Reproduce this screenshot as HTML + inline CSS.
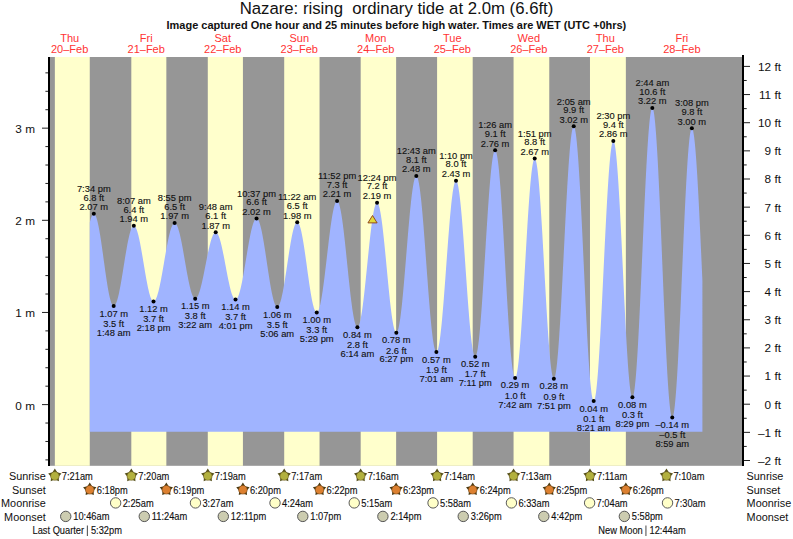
<!DOCTYPE html>
<html><head><meta charset="utf-8"><style>
html,body{margin:0;padding:0;background:#fff;width:793px;height:539px;overflow:hidden}
svg{display:block}
text{font-family:"Liberation Sans",sans-serif;fill:#111}
.t,.ev{stroke:#111;stroke-width:0.12px}
.t{font-size:9.35px}
.ev{font-size:9.3px}
.row{font-size:10.85px}
.ax{font-size:11.8px}
.day{font-size:11px;fill:#ff3333}
</style></head><body>
<svg width="793" height="539" viewBox="0 0 793 539" style="white-space:pre">

<text x="396.5" y="14.1" text-anchor="middle" style="font-size:16.75px">Nazare: rising &#160;ordinary tide at 2.0m (6.6ft)</text>
<text x="396.4" y="28.9" text-anchor="middle" style="font-size:10.98px;font-weight:bold">Image captured One hour and 25 minutes before high water. Times are WET (UTC +0hrs)</text>
<text class="day" x="69.67" y="41.9" text-anchor="middle">Thu</text>
<text class="day" x="69.67" y="52.9" text-anchor="middle">20–Feb</text>
<text class="day" x="146.20" y="41.9" text-anchor="middle">Fri</text>
<text class="day" x="146.20" y="52.9" text-anchor="middle">21–Feb</text>
<text class="day" x="222.72" y="41.9" text-anchor="middle">Sat</text>
<text class="day" x="222.72" y="52.9" text-anchor="middle">22–Feb</text>
<text class="day" x="299.24" y="41.9" text-anchor="middle">Sun</text>
<text class="day" x="299.24" y="52.9" text-anchor="middle">23–Feb</text>
<text class="day" x="375.77" y="41.9" text-anchor="middle">Mon</text>
<text class="day" x="375.77" y="52.9" text-anchor="middle">24–Feb</text>
<text class="day" x="452.29" y="41.9" text-anchor="middle">Tue</text>
<text class="day" x="452.29" y="52.9" text-anchor="middle">25–Feb</text>
<text class="day" x="528.82" y="41.9" text-anchor="middle">Wed</text>
<text class="day" x="528.82" y="52.9" text-anchor="middle">26–Feb</text>
<text class="day" x="605.34" y="41.9" text-anchor="middle">Thu</text>
<text class="day" x="605.34" y="52.9" text-anchor="middle">27–Feb</text>
<text class="day" x="681.86" y="41.9" text-anchor="middle">Fri</text>
<text class="day" x="681.86" y="52.9" text-anchor="middle">28–Feb</text>
<rect x="50" y="57" width="692" height="408.8" fill="#969696"/>
<rect x="54.85" y="57" width="34.91" height="408.8" fill="#ffffcc"/>
<rect x="131.32" y="57" width="35.02" height="408.8" fill="#ffffcc"/>
<rect x="207.79" y="57" width="35.13" height="408.8" fill="#ffffcc"/>
<rect x="284.20" y="57" width="35.34" height="408.8" fill="#ffffcc"/>
<rect x="360.68" y="57" width="35.45" height="408.8" fill="#ffffcc"/>
<rect x="437.09" y="57" width="35.60" height="408.8" fill="#ffffcc"/>
<rect x="513.56" y="57" width="35.71" height="408.8" fill="#ffffcc"/>
<rect x="589.98" y="57" width="35.87" height="408.8" fill="#ffffcc"/>
<path d="M89.80,431.8 L89.80,222.56 L90.24,220.81 L90.68,219.23 L91.11,217.85 L91.55,216.67 L91.99,215.68 L92.43,214.91 L92.86,214.34 L93.30,213.99 L93.74,213.85 L94.18,213.93 L94.61,214.23 L95.05,214.75 L95.49,215.48 L95.93,216.43 L96.36,217.59 L96.80,218.94 L97.24,220.50 L97.68,222.24 L98.11,224.16 L98.55,226.25 L98.99,228.51 L99.43,230.91 L99.86,233.45 L100.30,236.12 L100.74,238.91 L101.18,241.79 L101.61,244.76 L102.05,247.81 L102.49,250.91 L102.93,254.05 L103.36,257.22 L103.80,260.41 L104.24,263.59 L104.68,266.76 L105.11,269.89 L105.55,272.97 L105.99,276.00 L106.43,278.94 L106.87,281.80 L107.30,284.55 L107.74,287.18 L108.18,289.68 L108.62,292.04 L109.05,294.25 L109.49,296.29 L109.93,298.16 L110.37,299.85 L110.80,301.34 L111.24,302.64 L111.68,303.73 L112.12,304.61 L112.55,305.28 L112.99,305.73 L113.43,305.97 L113.87,305.98 L114.30,305.81 L114.74,305.44 L115.18,304.90 L115.62,304.17 L116.05,303.27 L116.49,302.19 L116.93,300.94 L117.37,299.53 L117.80,297.96 L118.24,296.24 L118.68,294.39 L119.12,292.39 L119.55,290.28 L119.99,288.05 L120.43,285.72 L120.87,283.30 L121.31,280.80 L121.74,278.22 L122.18,275.59 L122.62,272.92 L123.06,270.21 L123.49,267.48 L123.93,264.75 L124.37,262.02 L124.81,259.30 L125.24,256.62 L125.68,253.99 L126.12,251.40 L126.56,248.89 L126.99,246.45 L127.43,244.11 L127.87,241.87 L128.31,239.73 L128.74,237.72 L129.18,235.85 L129.62,234.11 L130.06,232.52 L130.49,231.08 L130.93,229.81 L131.37,228.71 L131.81,227.78 L132.24,227.02 L132.68,226.45 L133.12,226.06 L133.56,225.86 L133.99,225.84 L134.43,226.01 L134.87,226.36 L135.31,226.89 L135.75,227.60 L136.18,228.49 L136.62,229.54 L137.06,230.76 L137.50,232.15 L137.93,233.68 L138.37,235.36 L138.81,237.17 L139.25,239.12 L139.68,241.18 L140.12,243.35 L140.56,245.63 L141.00,247.98 L141.43,250.42 L141.87,252.92 L142.31,255.47 L142.75,258.06 L143.18,260.68 L143.62,263.31 L144.06,265.94 L144.50,268.56 L144.93,271.16 L145.37,273.72 L145.81,276.23 L146.25,278.68 L146.68,281.06 L147.12,283.35 L147.56,285.55 L148.00,287.64 L148.43,289.61 L148.87,291.46 L149.31,293.17 L149.75,294.74 L150.18,296.15 L150.62,297.41 L151.06,298.50 L151.50,299.43 L151.94,300.18 L152.37,300.75 L152.81,301.14 L153.25,301.35 L153.69,301.38 L154.12,301.24 L154.56,300.93 L155.00,300.46 L155.44,299.82 L155.87,299.03 L156.31,298.08 L156.75,296.98 L157.19,295.73 L157.62,294.34 L158.06,292.81 L158.50,291.15 L158.94,289.37 L159.37,287.47 L159.81,285.47 L160.25,283.37 L160.69,281.18 L161.12,278.91 L161.56,276.56 L162.00,274.16 L162.44,271.71 L162.87,269.21 L163.31,266.69 L163.75,264.14 L164.19,261.59 L164.62,259.04 L165.06,256.51 L165.50,254.00 L165.94,251.52 L166.38,249.09 L166.81,246.72 L167.25,244.41 L167.69,242.18 L168.13,240.03 L168.56,237.98 L169.00,236.02 L169.44,234.18 L169.88,232.46 L170.31,230.87 L170.75,229.41 L171.19,228.09 L171.63,226.91 L172.06,225.88 L172.50,225.01 L172.94,224.30 L173.38,223.74 L173.81,223.35 L174.25,223.13 L174.69,223.07 L175.13,223.17 L175.56,223.45 L176.00,223.89 L176.44,224.50 L176.88,225.27 L177.31,226.20 L177.75,227.29 L178.19,228.52 L178.63,229.90 L179.06,231.42 L179.50,233.07 L179.94,234.84 L180.38,236.73 L180.81,238.72 L181.25,240.82 L181.69,243.00 L182.13,245.27 L182.57,247.60 L183.00,249.99 L183.44,252.44 L183.88,254.92 L184.32,257.42 L184.75,259.94 L185.19,262.47 L185.63,264.98 L186.07,267.48 L186.50,269.95 L186.94,272.38 L187.38,274.76 L187.82,277.07 L188.25,279.32 L188.69,281.48 L189.13,283.54 L189.57,285.51 L190.00,287.37 L190.44,289.11 L190.88,290.72 L191.32,292.20 L191.75,293.53 L192.19,294.73 L192.63,295.77 L193.07,296.65 L193.50,297.38 L193.94,297.94 L194.38,298.34 L194.82,298.57 L195.25,298.63 L195.69,298.53 L196.13,298.29 L196.57,297.89 L197.00,297.36 L197.44,296.68 L197.88,295.86 L198.32,294.90 L198.76,293.81 L199.19,292.59 L199.63,291.26 L200.07,289.80 L200.51,288.24 L200.94,286.57 L201.38,284.81 L201.82,282.96 L202.26,281.04 L202.69,279.04 L203.13,276.98 L203.57,274.88 L204.01,272.72 L204.44,270.54 L204.88,268.33 L205.32,266.11 L205.76,263.89 L206.19,261.68 L206.63,259.48 L207.07,257.31 L207.51,255.17 L207.94,253.08 L208.38,251.05 L208.82,249.08 L209.26,247.18 L209.69,245.37 L210.13,243.65 L210.57,242.02 L211.01,240.50 L211.44,239.09 L211.88,237.80 L212.32,236.64 L212.76,235.60 L213.20,234.70 L213.63,233.94 L214.07,233.31 L214.51,232.84 L214.95,232.50 L215.38,232.32 L215.82,232.29 L216.26,232.41 L216.70,232.69 L217.13,233.14 L217.57,233.74 L218.01,234.50 L218.45,235.40 L218.88,236.46 L219.32,237.65 L219.76,238.98 L220.20,240.45 L220.63,242.03 L221.07,243.73 L221.51,245.53 L221.95,247.44 L222.38,249.43 L222.82,251.50 L223.26,253.64 L223.70,255.84 L224.13,258.09 L224.57,260.37 L225.01,262.69 L225.45,265.01 L225.88,267.35 L226.32,269.67 L226.76,271.98 L227.20,274.26 L227.63,276.49 L228.07,278.68 L228.51,280.81 L228.95,282.86 L229.39,284.83 L229.82,286.71 L230.26,288.50 L230.70,290.17 L231.14,291.73 L231.57,293.16 L232.01,294.46 L232.45,295.62 L232.89,296.64 L233.32,297.52 L233.76,298.24 L234.20,298.81 L234.64,299.21 L235.07,299.46 L235.51,299.55 L235.95,299.47 L236.39,299.22 L236.82,298.79 L237.26,298.20 L237.70,297.44 L238.14,296.51 L238.57,295.43 L239.01,294.19 L239.45,292.79 L239.89,291.26 L240.32,289.59 L240.76,287.78 L241.20,285.86 L241.64,283.82 L242.07,281.67 L242.51,279.43 L242.95,277.10 L243.39,274.69 L243.83,272.22 L244.26,269.69 L244.70,267.11 L245.14,264.50 L245.58,261.87 L246.01,259.22 L246.45,256.57 L246.89,253.94 L247.33,251.32 L247.76,248.74 L248.20,246.20 L248.64,243.72 L249.08,241.30 L249.51,238.96 L249.95,236.70 L250.39,234.54 L250.83,232.48 L251.26,230.53 L251.70,228.71 L252.14,227.01 L252.58,225.46 L253.01,224.04 L253.45,222.77 L253.89,221.66 L254.33,220.71 L254.76,219.92 L255.20,219.30 L255.64,218.85 L256.08,218.57 L256.51,218.46 L256.95,218.53 L257.39,218.80 L257.83,219.26 L258.26,219.91 L258.70,220.76 L259.14,221.79 L259.58,222.99 L260.02,224.38 L260.45,225.93 L260.89,227.65 L261.33,229.52 L261.77,231.54 L262.20,233.69 L262.64,235.98 L263.08,238.38 L263.52,240.89 L263.95,243.49 L264.39,246.18 L264.83,248.95 L265.27,251.77 L265.70,254.64 L266.14,257.55 L266.58,260.48 L267.02,263.42 L267.45,266.36 L267.89,269.28 L268.33,272.17 L268.77,275.02 L269.20,277.82 L269.64,280.55 L270.08,283.20 L270.52,285.75 L270.95,288.21 L271.39,290.56 L271.83,292.78 L272.27,294.86 L272.70,296.81 L273.14,298.61 L273.58,300.24 L274.02,301.71 L274.46,303.01 L274.89,304.13 L275.33,305.06 L275.77,305.81 L276.21,306.37 L276.64,306.74 L277.08,306.91 L277.52,306.88 L277.96,306.66 L278.39,306.23 L278.83,305.61 L279.27,304.79 L279.71,303.78 L280.14,302.59 L280.58,301.22 L281.02,299.67 L281.46,297.96 L281.89,296.09 L282.33,294.07 L282.77,291.91 L283.21,289.62 L283.64,287.21 L284.08,284.69 L284.52,282.08 L284.96,279.39 L285.39,276.62 L285.83,273.80 L286.27,270.93 L286.71,268.04 L287.14,265.13 L287.58,262.21 L288.02,259.31 L288.46,256.43 L288.90,253.59 L289.33,250.80 L289.77,248.07 L290.21,245.43 L290.65,242.87 L291.08,240.42 L291.52,238.08 L291.96,235.86 L292.40,233.79 L292.83,231.85 L293.27,230.07 L293.71,228.46 L294.15,227.01 L294.58,225.75 L295.02,224.66 L295.46,223.77 L295.90,223.06 L296.33,222.56 L296.77,222.25 L297.21,222.14 L297.65,222.25 L298.08,222.57 L298.52,223.12 L298.96,223.89 L299.40,224.88 L299.83,226.07 L300.27,227.47 L300.71,229.07 L301.15,230.86 L301.58,232.83 L302.02,234.97 L302.46,237.27 L302.90,239.72 L303.33,242.30 L303.77,245.02 L304.21,247.84 L304.65,250.75 L305.09,253.75 L305.52,256.82 L305.96,259.94 L306.40,263.10 L306.84,266.27 L307.27,269.46 L307.71,272.63 L308.15,275.77 L308.59,278.87 L309.02,281.92 L309.46,284.89 L309.90,287.78 L310.34,290.56 L310.77,293.23 L311.21,295.77 L311.65,298.16 L312.09,300.41 L312.52,302.49 L312.96,304.39 L313.40,306.11 L313.84,307.64 L314.27,308.97 L314.71,310.09 L315.15,311.00 L315.59,311.69 L316.02,312.16 L316.46,312.41 L316.90,312.43 L317.34,312.20 L317.77,311.72 L318.21,310.99 L318.65,310.01 L319.09,308.79 L319.52,307.33 L319.96,305.64 L320.40,303.73 L320.84,301.60 L321.28,299.27 L321.71,296.74 L322.15,294.03 L322.59,291.15 L323.03,288.12 L323.46,284.94 L323.90,281.63 L324.34,278.21 L324.78,274.69 L325.21,271.08 L325.65,267.42 L326.09,263.70 L326.53,259.95 L326.96,256.19 L327.40,252.43 L327.84,248.68 L328.28,244.98 L328.71,241.33 L329.15,237.75 L329.59,234.25 L330.03,230.86 L330.46,227.58 L330.90,224.44 L331.34,221.45 L331.78,218.61 L332.21,215.95 L332.65,213.48 L333.09,211.20 L333.53,209.13 L333.96,207.27 L334.40,205.65 L334.84,204.25 L335.28,203.09 L335.72,202.18 L336.15,201.52 L336.59,201.11 L337.03,200.95 L337.47,201.06 L337.90,201.46 L338.34,202.14 L338.78,203.11 L339.22,204.36 L339.65,205.88 L340.09,207.67 L340.53,209.72 L340.97,212.02 L341.40,214.55 L341.84,217.32 L342.28,220.29 L342.72,223.47 L343.15,226.83 L343.59,230.37 L344.03,234.06 L344.47,237.88 L344.90,241.83 L345.34,245.88 L345.78,250.01 L346.22,254.21 L346.65,258.45 L347.09,262.71 L347.53,266.99 L347.97,271.25 L348.40,275.47 L348.84,279.65 L349.28,283.75 L349.72,287.77 L350.16,291.67 L350.59,295.45 L351.03,299.08 L351.47,302.56 L351.91,305.85 L352.34,308.96 L352.78,311.86 L353.22,314.54 L353.66,316.99 L354.09,319.20 L354.53,321.15 L354.97,322.84 L355.41,324.27 L355.84,325.42 L356.28,326.28 L356.72,326.86 L357.16,327.16 L357.59,327.16 L358.03,326.86 L358.47,326.26 L358.91,325.36 L359.34,324.16 L359.78,322.67 L360.22,320.91 L360.66,318.87 L361.09,316.56 L361.53,314.01 L361.97,311.21 L362.41,308.19 L362.84,304.96 L363.28,301.53 L363.72,297.93 L364.16,294.16 L364.59,290.25 L365.03,286.22 L365.47,282.08 L365.91,277.86 L366.35,273.58 L366.78,269.26 L367.22,264.91 L367.66,260.57 L368.10,256.24 L368.53,251.96 L368.97,247.75 L369.41,243.61 L369.85,239.59 L370.28,235.68 L370.72,231.92 L371.16,228.32 L371.60,224.90 L372.03,221.68 L372.47,218.66 L372.91,215.88 L373.35,213.33 L373.78,211.04 L374.22,209.01 L374.66,207.25 L375.10,205.78 L375.53,204.59 L375.97,203.70 L376.41,203.11 L376.85,202.82 L377.28,202.84 L377.72,203.19 L378.16,203.86 L378.60,204.86 L379.03,206.18 L379.47,207.81 L379.91,209.74 L380.35,211.97 L380.79,214.48 L381.22,217.27 L381.66,220.31 L382.10,223.59 L382.54,227.09 L382.97,230.80 L383.41,234.70 L383.85,238.76 L384.29,242.98 L384.72,247.32 L385.16,251.76 L385.60,256.28 L386.04,260.86 L386.47,265.48 L386.91,270.11 L387.35,274.73 L387.79,279.31 L388.22,283.83 L388.66,288.27 L389.10,292.61 L389.54,296.82 L389.97,300.88 L390.41,304.78 L390.85,308.48 L391.29,311.99 L391.72,315.26 L392.16,318.30 L392.60,321.07 L393.04,323.58 L393.47,325.81 L393.91,327.74 L394.35,329.36 L394.79,330.67 L395.22,331.67 L395.66,332.34 L396.10,332.68 L396.54,332.68 L396.98,332.33 L397.41,331.60 L397.85,330.51 L398.29,329.06 L398.73,327.25 L399.16,325.10 L399.60,322.62 L400.04,319.81 L400.48,316.69 L400.91,313.28 L401.35,309.59 L401.79,305.64 L402.23,301.45 L402.66,297.03 L403.10,292.41 L403.54,287.62 L403.98,282.66 L404.41,277.57 L404.85,272.37 L405.29,267.09 L405.73,261.75 L406.16,256.37 L406.60,250.98 L407.04,245.61 L407.48,240.28 L407.91,235.02 L408.35,229.85 L408.79,224.79 L409.23,219.88 L409.66,215.12 L410.10,210.56 L410.54,206.20 L410.98,202.07 L411.42,198.19 L411.85,194.57 L412.29,191.24 L412.73,188.20 L413.17,185.48 L413.60,183.08 L414.04,181.02 L414.48,179.31 L414.92,177.96 L415.35,176.96 L415.79,176.33 L416.23,176.08 L416.67,176.20 L417.10,176.74 L417.54,177.68 L417.98,179.03 L418.42,180.78 L418.85,182.91 L419.29,185.43 L419.73,188.32 L420.17,191.56 L420.60,195.13 L421.04,199.04 L421.48,203.24 L421.92,207.73 L422.35,212.49 L422.79,217.48 L423.23,222.70 L423.67,228.11 L424.10,233.68 L424.54,239.40 L424.98,245.24 L425.42,251.16 L425.85,257.14 L426.29,263.16 L426.73,269.18 L427.17,275.17 L427.61,281.12 L428.04,286.98 L428.48,292.74 L428.92,298.36 L429.36,303.82 L429.79,309.10 L430.23,314.16 L430.67,318.99 L431.11,323.57 L431.54,327.86 L431.98,331.86 L432.42,335.54 L432.86,338.88 L433.29,341.87 L433.73,344.50 L434.17,346.76 L434.61,348.62 L435.04,350.09 L435.48,351.16 L435.92,351.82 L436.36,352.07 L436.79,351.91 L437.23,351.32 L437.67,350.32 L438.11,348.90 L438.54,347.08 L438.98,344.86 L439.42,342.26 L439.86,339.28 L440.29,335.95 L440.73,332.27 L441.17,328.27 L441.61,323.97 L442.05,319.38 L442.48,314.53 L442.92,309.45 L443.36,304.15 L443.80,298.67 L444.23,293.03 L444.67,287.26 L445.11,281.39 L445.55,275.44 L445.98,269.45 L446.42,263.45 L446.86,257.45 L447.30,251.50 L447.73,245.63 L448.17,239.86 L448.61,234.21 L449.05,228.73 L449.48,223.43 L449.92,218.34 L450.36,213.49 L450.80,208.89 L451.23,204.58 L451.67,200.57 L452.11,196.89 L452.55,193.55 L452.98,190.56 L453.42,187.95 L453.86,185.72 L454.30,183.89 L454.73,182.46 L455.17,181.45 L455.61,180.85 L456.05,180.68 L456.48,180.94 L456.92,181.65 L457.36,182.81 L457.80,184.41 L458.24,186.44 L458.67,188.90 L459.11,191.76 L459.55,195.02 L459.99,198.66 L460.42,202.65 L460.86,206.99 L461.30,211.64 L461.74,216.59 L462.17,221.80 L462.61,227.25 L463.05,232.92 L463.49,238.76 L463.92,244.77 L464.36,250.89 L464.80,257.11 L465.24,263.38 L465.67,269.69 L466.11,275.98 L466.55,282.24 L466.99,288.43 L467.42,294.52 L467.86,300.48 L468.30,306.27 L468.74,311.87 L469.17,317.25 L469.61,322.38 L470.05,327.23 L470.49,331.79 L470.92,336.02 L471.36,339.90 L471.80,343.42 L472.24,346.55 L472.68,349.29 L473.11,351.61 L473.55,353.50 L473.99,354.96 L474.43,355.98 L474.86,356.55 L475.30,356.67 L475.74,356.31 L476.18,355.45 L476.61,354.12 L477.05,352.30 L477.49,350.02 L477.93,347.27 L478.36,344.08 L478.80,340.46 L479.24,336.42 L479.68,331.99 L480.11,327.19 L480.55,322.04 L480.99,316.56 L481.43,310.77 L481.86,304.72 L482.30,298.43 L482.74,291.91 L483.18,285.22 L483.61,278.38 L484.05,271.41 L484.49,264.37 L484.93,257.27 L485.36,250.15 L485.80,243.05 L486.24,235.99 L486.68,229.02 L487.11,222.17 L487.55,215.47 L487.99,208.94 L488.43,202.63 L488.87,196.56 L489.30,190.76 L489.74,185.26 L490.18,180.09 L490.62,175.26 L491.05,170.80 L491.49,166.74 L491.93,163.09 L492.37,159.87 L492.80,157.10 L493.24,154.78 L493.68,152.94 L494.12,151.57 L494.55,150.68 L494.99,150.29 L495.43,150.40 L495.87,151.04 L496.30,152.22 L496.74,153.93 L497.18,156.15 L497.62,158.89 L498.05,162.13 L498.49,165.85 L498.93,170.03 L499.37,174.66 L499.80,179.71 L500.24,185.16 L500.68,190.99 L501.12,197.16 L501.55,203.64 L501.99,210.42 L502.43,217.44 L502.87,224.69 L503.31,232.12 L503.74,239.71 L504.18,247.41 L504.62,255.19 L505.06,263.01 L505.49,270.83 L505.93,278.63 L506.37,286.35 L506.81,293.97 L507.24,301.45 L507.68,308.75 L508.12,315.84 L508.56,322.68 L508.99,329.25 L509.43,335.51 L509.87,341.43 L510.31,346.99 L510.74,352.15 L511.18,356.89 L511.62,361.20 L512.06,365.05 L512.49,368.42 L512.93,371.29 L513.37,373.66 L513.81,375.51 L514.24,376.83 L514.68,377.62 L515.12,377.88 L515.56,377.59 L515.99,376.77 L516.43,375.41 L516.87,373.53 L517.31,371.12 L517.74,368.22 L518.18,364.82 L518.62,360.95 L519.06,356.62 L519.50,351.86 L519.93,346.69 L520.37,341.13 L520.81,335.21 L521.25,328.96 L521.68,322.42 L522.12,315.61 L522.56,308.57 L523.00,301.33 L523.43,293.92 L523.87,286.39 L524.31,278.77 L524.75,271.10 L525.18,263.41 L525.62,255.75 L526.06,248.15 L526.50,240.65 L526.93,233.28 L527.37,226.09 L527.81,219.10 L528.25,212.35 L528.68,205.88 L529.12,199.71 L529.56,193.89 L530.00,188.42 L530.43,183.35 L530.87,178.69 L531.31,174.48 L531.75,170.72 L532.18,167.44 L532.62,164.66 L533.06,162.39 L533.50,160.64 L533.94,159.41 L534.37,158.72 L534.81,158.57 L535.25,158.98 L535.69,159.96 L536.12,161.49 L536.56,163.58 L537.00,166.21 L537.44,169.37 L537.87,173.04 L538.31,177.21 L538.75,181.85 L539.19,186.93 L539.62,192.44 L540.06,198.34 L540.50,204.61 L540.94,211.20 L541.37,218.09 L541.81,225.25 L542.25,232.62 L542.69,240.19 L543.12,247.90 L543.56,255.71 L544.00,263.60 L544.44,271.51 L544.87,279.40 L545.31,287.24 L545.75,294.99 L546.19,302.60 L546.62,310.03 L547.06,317.25 L547.50,324.22 L547.94,330.91 L548.37,337.27 L548.81,343.28 L549.25,348.90 L549.69,354.11 L550.13,358.88 L550.56,363.18 L551.00,366.99 L551.44,370.30 L551.88,373.08 L552.31,375.33 L552.75,377.02 L553.19,378.16 L553.63,378.73 L554.06,378.72 L554.50,378.12 L554.94,376.92 L555.38,375.12 L555.81,372.74 L556.25,369.78 L556.69,366.26 L557.13,362.20 L557.56,357.62 L558.00,352.53 L558.44,346.96 L558.88,340.94 L559.31,334.50 L559.75,327.67 L560.19,320.47 L560.63,312.96 L561.06,305.15 L561.50,297.09 L561.94,288.82 L562.38,280.38 L562.81,271.80 L563.25,263.13 L563.69,254.42 L564.13,245.69 L564.57,236.99 L565.00,228.37 L565.44,219.86 L565.88,211.52 L566.32,203.36 L566.75,195.44 L567.19,187.80 L567.63,180.47 L568.07,173.47 L568.50,166.86 L568.94,160.66 L569.38,154.90 L569.82,149.60 L570.25,144.80 L570.69,140.51 L571.13,136.76 L571.57,133.56 L572.00,130.93 L572.44,128.88 L572.88,127.42 L573.32,126.56 L573.75,126.31 L574.19,126.68 L574.63,127.71 L575.07,129.37 L575.50,131.67 L575.94,134.59 L576.38,138.13 L576.82,142.26 L577.25,146.96 L577.69,152.22 L578.13,158.00 L578.57,164.28 L579.00,171.03 L579.44,178.22 L579.88,185.81 L580.32,193.77 L580.76,202.07 L581.19,210.65 L581.63,219.48 L582.07,228.52 L582.51,237.73 L582.94,247.06 L583.38,256.47 L583.82,265.92 L584.26,275.35 L584.69,284.72 L585.13,294.00 L585.57,303.13 L586.01,312.08 L586.44,320.80 L586.88,329.24 L587.32,337.38 L587.76,345.16 L588.19,352.56 L588.63,359.54 L589.07,366.07 L589.51,372.11 L589.94,377.64 L590.38,382.63 L590.82,387.05 L591.26,390.89 L591.69,394.13 L592.13,396.75 L592.57,398.74 L593.01,400.10 L593.44,400.80 L593.88,400.86 L594.32,400.28 L594.76,399.06 L595.20,397.21 L595.63,394.75 L596.07,391.67 L596.51,388.01 L596.95,383.76 L597.38,378.97 L597.82,373.64 L598.26,367.81 L598.70,361.50 L599.13,354.75 L599.57,347.59 L600.01,340.05 L600.45,332.17 L600.88,323.99 L601.32,315.55 L601.76,306.90 L602.20,298.06 L602.63,289.09 L603.07,280.04 L603.51,270.94 L603.95,261.83 L604.38,252.78 L604.82,243.81 L605.26,234.98 L605.70,226.32 L606.13,217.89 L606.57,209.71 L607.01,201.83 L607.45,194.30 L607.88,187.14 L608.32,180.39 L608.76,174.09 L609.20,168.27 L609.63,162.94 L610.07,158.15 L610.51,153.92 L610.95,150.26 L611.39,147.19 L611.82,144.73 L612.26,142.89 L612.70,141.68 L613.14,141.10 L613.57,141.17 L614.01,141.90 L614.45,143.29 L614.89,145.33 L615.32,148.02 L615.76,151.33 L616.20,155.26 L616.64,159.77 L617.07,164.86 L617.51,170.48 L617.95,176.62 L618.39,183.24 L618.82,190.30 L619.26,197.77 L619.70,205.62 L620.14,213.79 L620.57,222.25 L621.01,230.95 L621.45,239.85 L621.89,248.91 L622.32,258.06 L622.76,267.28 L623.20,276.51 L623.64,285.69 L624.07,294.79 L624.51,303.76 L624.95,312.55 L625.39,321.11 L625.82,329.41 L626.26,337.39 L626.70,345.01 L627.14,352.25 L627.58,359.05 L628.01,365.38 L628.45,371.22 L628.89,376.52 L629.33,381.27 L629.76,385.44 L630.20,389.00 L630.64,391.94 L631.08,394.24 L631.51,395.90 L631.95,396.89 L632.39,397.23 L632.83,396.88 L633.26,395.86 L633.70,394.14 L634.14,391.76 L634.58,388.71 L635.01,385.02 L635.45,380.69 L635.89,375.76 L636.33,370.24 L636.76,364.16 L637.20,357.55 L637.64,350.44 L638.08,342.86 L638.51,334.86 L638.95,326.46 L639.39,317.71 L639.83,308.65 L640.26,299.33 L640.70,289.78 L641.14,280.05 L641.58,270.20 L642.02,260.26 L642.45,250.28 L642.89,240.32 L643.33,230.41 L643.77,220.61 L644.20,210.96 L644.64,201.51 L645.08,192.30 L645.52,183.37 L645.95,174.78 L646.39,166.56 L646.83,158.74 L647.27,151.37 L647.70,144.49 L648.14,138.11 L648.58,132.28 L649.02,127.03 L649.45,122.37 L649.89,118.33 L650.33,114.93 L650.77,112.18 L651.20,110.10 L651.64,108.70 L652.08,107.98 L652.52,107.95 L652.95,108.66 L653.39,110.09 L653.83,112.26 L654.27,115.13 L654.70,118.71 L655.14,122.98 L655.58,127.91 L656.02,133.48 L656.45,139.66 L656.89,146.43 L657.33,153.75 L657.77,161.60 L658.21,169.92 L658.64,178.68 L659.08,187.84 L659.52,197.36 L659.96,207.19 L660.39,217.29 L660.83,227.59 L661.27,238.07 L661.71,248.66 L662.14,259.32 L662.58,270.00 L663.02,280.64 L663.46,291.20 L663.89,301.62 L664.33,311.85 L664.77,321.86 L665.21,331.58 L665.64,340.97 L666.08,349.99 L666.52,358.59 L666.96,366.74 L667.39,374.39 L667.83,381.52 L668.27,388.07 L668.71,394.03 L669.14,399.37 L669.58,404.06 L670.02,408.07 L670.46,411.39 L670.89,414.01 L671.33,415.90 L671.77,417.07 L672.21,417.50 L672.65,417.20 L673.08,416.20 L673.52,414.49 L673.96,412.09 L674.40,409.00 L674.83,405.25 L675.27,400.84 L675.71,395.80 L676.15,390.16 L676.58,383.95 L677.02,377.18 L677.46,369.91 L677.90,362.16 L678.33,353.97 L678.77,345.38 L679.21,336.43 L679.65,327.17 L680.08,317.65 L680.52,307.90 L680.96,297.98 L681.40,287.94 L681.83,277.83 L682.27,267.69 L682.71,257.57 L683.15,247.53 L683.58,237.62 L684.02,227.87 L684.46,218.35 L684.90,209.10 L685.33,200.16 L685.77,191.57 L686.21,183.39 L686.65,175.64 L687.09,168.37 L687.52,161.62 L687.96,155.41 L688.40,149.78 L688.84,144.75 L689.27,140.35 L689.71,136.60 L690.15,133.52 L690.59,131.13 L691.02,129.43 L691.46,128.44 L691.90,128.15 L692.34,128.55 L692.77,129.61 L693.21,131.32 L693.65,133.67 L694.09,136.67 L694.52,140.28 L694.96,144.50 L695.40,149.30 L695.84,154.66 L696.27,160.57 L696.71,166.98 L697.15,173.86 L697.59,181.20 L698.02,188.94 L698.46,197.07 L698.90,205.52 L699.34,214.28 L699.77,223.29 L700.21,232.52 L700.65,241.91 L701.09,251.43 L701.52,261.04 L701.96,270.67 L702.40,280.30 L702.40,431.8 Z" fill="#a0b4ff"/>
<rect x="48" y="57" width="2" height="409" fill="#000"/>
<rect x="742" y="55" width="2" height="411" fill="#000"/>
<rect x="45.4" y="459.39" width="2.6" height="1" fill="#222"/>
<rect x="45.4" y="440.96" width="2.6" height="1" fill="#222"/>
<rect x="45.4" y="422.53" width="2.6" height="1" fill="#222"/>
<rect x="42" y="404.10" width="6" height="1" fill="#222"/>
<text class="ax" x="35" y="409.50" text-anchor="end">0 m</text>
<rect x="45.4" y="385.67" width="2.6" height="1" fill="#222"/>
<rect x="45.4" y="367.24" width="2.6" height="1" fill="#222"/>
<rect x="45.4" y="348.81" width="2.6" height="1" fill="#222"/>
<rect x="45.4" y="330.38" width="2.6" height="1" fill="#222"/>
<rect x="42" y="311.95" width="6" height="1" fill="#222"/>
<text class="ax" x="35" y="317.35" text-anchor="end">1 m</text>
<rect x="45.4" y="293.52" width="2.6" height="1" fill="#222"/>
<rect x="45.4" y="275.09" width="2.6" height="1" fill="#222"/>
<rect x="45.4" y="256.66" width="2.6" height="1" fill="#222"/>
<rect x="45.4" y="238.23" width="2.6" height="1" fill="#222"/>
<rect x="42" y="219.80" width="6" height="1" fill="#222"/>
<text class="ax" x="35" y="225.20" text-anchor="end">2 m</text>
<rect x="45.4" y="201.37" width="2.6" height="1" fill="#222"/>
<rect x="45.4" y="182.94" width="2.6" height="1" fill="#222"/>
<rect x="45.4" y="164.51" width="2.6" height="1" fill="#222"/>
<rect x="45.4" y="146.08" width="2.6" height="1" fill="#222"/>
<rect x="42" y="127.65" width="6" height="1" fill="#222"/>
<text class="ax" x="35" y="133.05" text-anchor="end">3 m</text>
<rect x="45.4" y="109.22" width="2.6" height="1" fill="#222"/>
<rect x="45.4" y="90.79" width="2.6" height="1" fill="#222"/>
<rect x="45.4" y="72.36" width="2.6" height="1" fill="#222"/>
<rect x="744" y="460.00" width="6" height="1" fill="#222"/>
<text class="ax" x="781" y="464.90" text-anchor="end">–2 ft</text>
<rect x="744" y="445.92" width="2.7" height="1" fill="#222"/>
<rect x="744" y="431.85" width="6" height="1" fill="#222"/>
<text class="ax" x="781" y="436.75" text-anchor="end">–1 ft</text>
<rect x="744" y="417.77" width="2.7" height="1" fill="#222"/>
<rect x="744" y="403.70" width="6" height="1" fill="#222"/>
<text class="ax" x="781" y="408.60" text-anchor="end">0 ft</text>
<rect x="744" y="389.62" width="2.7" height="1" fill="#222"/>
<rect x="744" y="375.55" width="6" height="1" fill="#222"/>
<text class="ax" x="781" y="380.45" text-anchor="end">1 ft</text>
<rect x="744" y="361.48" width="2.7" height="1" fill="#222"/>
<rect x="744" y="347.40" width="6" height="1" fill="#222"/>
<text class="ax" x="781" y="352.30" text-anchor="end">2 ft</text>
<rect x="744" y="333.32" width="2.7" height="1" fill="#222"/>
<rect x="744" y="319.25" width="6" height="1" fill="#222"/>
<text class="ax" x="781" y="324.15" text-anchor="end">3 ft</text>
<rect x="744" y="305.18" width="2.7" height="1" fill="#222"/>
<rect x="744" y="291.10" width="6" height="1" fill="#222"/>
<text class="ax" x="781" y="296.00" text-anchor="end">4 ft</text>
<rect x="744" y="277.02" width="2.7" height="1" fill="#222"/>
<rect x="744" y="262.95" width="6" height="1" fill="#222"/>
<text class="ax" x="781" y="267.85" text-anchor="end">5 ft</text>
<rect x="744" y="248.88" width="2.7" height="1" fill="#222"/>
<rect x="744" y="234.80" width="6" height="1" fill="#222"/>
<text class="ax" x="781" y="239.70" text-anchor="end">6 ft</text>
<rect x="744" y="220.72" width="2.7" height="1" fill="#222"/>
<rect x="744" y="206.65" width="6" height="1" fill="#222"/>
<text class="ax" x="781" y="211.55" text-anchor="end">7 ft</text>
<rect x="744" y="192.57" width="2.7" height="1" fill="#222"/>
<rect x="744" y="178.50" width="6" height="1" fill="#222"/>
<text class="ax" x="781" y="183.40" text-anchor="end">8 ft</text>
<rect x="744" y="164.43" width="2.7" height="1" fill="#222"/>
<rect x="744" y="150.35" width="6" height="1" fill="#222"/>
<text class="ax" x="781" y="155.25" text-anchor="end">9 ft</text>
<rect x="744" y="136.27" width="2.7" height="1" fill="#222"/>
<rect x="744" y="122.20" width="6" height="1" fill="#222"/>
<text class="ax" x="781" y="127.10" text-anchor="end">10 ft</text>
<rect x="744" y="108.12" width="2.7" height="1" fill="#222"/>
<rect x="744" y="94.05" width="6" height="1" fill="#222"/>
<text class="ax" x="781" y="98.95" text-anchor="end">11 ft</text>
<rect x="744" y="79.98" width="2.7" height="1" fill="#222"/>
<rect x="744" y="65.90" width="6" height="1" fill="#222"/>
<text class="ax" x="781" y="70.80" text-anchor="end">12 ft</text>
<circle cx="93.80" cy="213.85" r="2" fill="#000"/>
<text class="t" transform="translate(93.80,192.05) scale(1,1.0)" text-anchor="middle">7:34 pm</text>
<text class="t" transform="translate(93.80,200.55) scale(1,1.0)" text-anchor="middle">6.8 ft</text>
<text class="t" transform="translate(93.80,210.25) scale(1,1.0)" text-anchor="middle">2.07 m</text>
<circle cx="113.67" cy="306.00" r="2" fill="#000"/>
<text class="t" transform="translate(113.67,316.60) scale(1,1.0)" text-anchor="middle">1.07 m</text>
<text class="t" transform="translate(113.67,326.80) scale(1,1.0)" text-anchor="middle">3.5 ft</text>
<text class="t" transform="translate(113.67,335.70) scale(1,1.0)" text-anchor="middle">1:48 am</text>
<circle cx="133.81" cy="225.83" r="2" fill="#000"/>
<text class="t" transform="translate(133.81,204.03) scale(1,1.0)" text-anchor="middle">8:07 am</text>
<text class="t" transform="translate(133.81,212.53) scale(1,1.0)" text-anchor="middle">6.4 ft</text>
<text class="t" transform="translate(133.81,222.23) scale(1,1.0)" text-anchor="middle">1.94 m</text>
<circle cx="153.53" cy="301.39" r="2" fill="#000"/>
<text class="t" transform="translate(153.53,311.99) scale(1,1.0)" text-anchor="middle">1.12 m</text>
<text class="t" transform="translate(153.53,322.19) scale(1,1.0)" text-anchor="middle">3.7 ft</text>
<text class="t" transform="translate(153.53,331.09) scale(1,1.0)" text-anchor="middle">2:18 pm</text>
<circle cx="174.63" cy="223.06" r="2" fill="#000"/>
<text class="t" transform="translate(174.63,201.26) scale(1,1.0)" text-anchor="middle">8:55 pm</text>
<text class="t" transform="translate(174.63,209.76) scale(1,1.0)" text-anchor="middle">6.5 ft</text>
<text class="t" transform="translate(174.63,219.46) scale(1,1.0)" text-anchor="middle">1.97 m</text>
<circle cx="195.19" cy="298.63" r="2" fill="#000"/>
<text class="t" transform="translate(195.19,309.23) scale(1,1.0)" text-anchor="middle">1.15 m</text>
<text class="t" transform="translate(195.19,319.43) scale(1,1.0)" text-anchor="middle">3.8 ft</text>
<text class="t" transform="translate(195.19,328.33) scale(1,1.0)" text-anchor="middle">3:22 am</text>
<circle cx="215.71" cy="232.28" r="2" fill="#000"/>
<text class="t" transform="translate(215.71,210.48) scale(1,1.0)" text-anchor="middle">9:48 am</text>
<text class="t" transform="translate(215.71,218.98) scale(1,1.0)" text-anchor="middle">6.1 ft</text>
<text class="t" transform="translate(215.71,228.68) scale(1,1.0)" text-anchor="middle">1.87 m</text>
<circle cx="235.53" cy="299.55" r="2" fill="#000"/>
<text class="t" transform="translate(235.53,310.15) scale(1,1.0)" text-anchor="middle">1.14 m</text>
<text class="t" transform="translate(235.53,320.35) scale(1,1.0)" text-anchor="middle">3.7 ft</text>
<text class="t" transform="translate(235.53,329.25) scale(1,1.0)" text-anchor="middle">4:01 pm</text>
<circle cx="256.57" cy="218.46" r="2" fill="#000"/>
<text class="t" transform="translate(256.57,196.66) scale(1,1.0)" text-anchor="middle">10:37 pm</text>
<text class="t" transform="translate(256.57,205.16) scale(1,1.0)" text-anchor="middle">6.6 ft</text>
<text class="t" transform="translate(256.57,214.86) scale(1,1.0)" text-anchor="middle">2.02 m</text>
<circle cx="277.24" cy="306.92" r="2" fill="#000"/>
<text class="t" transform="translate(277.24,317.52) scale(1,1.0)" text-anchor="middle">1.06 m</text>
<text class="t" transform="translate(277.24,327.72) scale(1,1.0)" text-anchor="middle">3.5 ft</text>
<text class="t" transform="translate(277.24,336.62) scale(1,1.0)" text-anchor="middle">5:06 am</text>
<circle cx="297.22" cy="222.14" r="2" fill="#000"/>
<text class="t" transform="translate(297.22,200.34) scale(1,1.0)" text-anchor="middle">11:22 am</text>
<text class="t" transform="translate(297.22,208.84) scale(1,1.0)" text-anchor="middle">6.5 ft</text>
<text class="t" transform="translate(297.22,218.54) scale(1,1.0)" text-anchor="middle">1.98 m</text>
<circle cx="316.73" cy="312.45" r="2" fill="#000"/>
<text class="t" transform="translate(316.73,323.05) scale(1,1.0)" text-anchor="middle">1.00 m</text>
<text class="t" transform="translate(316.73,333.25) scale(1,1.0)" text-anchor="middle">3.3 ft</text>
<text class="t" transform="translate(316.73,342.15) scale(1,1.0)" text-anchor="middle">5:29 pm</text>
<circle cx="337.08" cy="200.95" r="2" fill="#000"/>
<text class="t" transform="translate(337.08,179.15) scale(1,1.0)" text-anchor="middle">11:52 pm</text>
<text class="t" transform="translate(337.08,187.65) scale(1,1.0)" text-anchor="middle">7.3 ft</text>
<text class="t" transform="translate(337.08,197.35) scale(1,1.0)" text-anchor="middle">2.21 m</text>
<circle cx="357.38" cy="327.19" r="2" fill="#000"/>
<text class="t" transform="translate(357.38,337.79) scale(1,1.0)" text-anchor="middle">0.84 m</text>
<text class="t" transform="translate(357.38,347.99) scale(1,1.0)" text-anchor="middle">2.8 ft</text>
<text class="t" transform="translate(357.38,356.89) scale(1,1.0)" text-anchor="middle">6:14 am</text>
<circle cx="377.04" cy="202.79" r="2" fill="#000"/>
<text class="t" transform="translate(377.04,180.99) scale(1,1.0)" text-anchor="middle">12:24 pm</text>
<text class="t" transform="translate(377.04,189.49) scale(1,1.0)" text-anchor="middle">7.2 ft</text>
<text class="t" transform="translate(377.04,199.19) scale(1,1.0)" text-anchor="middle">2.19 m</text>
<circle cx="396.33" cy="332.72" r="2" fill="#000"/>
<text class="t" transform="translate(396.33,343.32) scale(1,1.0)" text-anchor="middle">0.78 m</text>
<text class="t" transform="translate(396.33,353.52) scale(1,1.0)" text-anchor="middle">2.6 ft</text>
<text class="t" transform="translate(396.33,362.42) scale(1,1.0)" text-anchor="middle">6:27 pm</text>
<circle cx="416.32" cy="176.07" r="2" fill="#000"/>
<text class="t" transform="translate(416.32,154.27) scale(1,1.0)" text-anchor="middle">12:43 am</text>
<text class="t" transform="translate(416.32,162.77) scale(1,1.0)" text-anchor="middle">8.1 ft</text>
<text class="t" transform="translate(416.32,172.47) scale(1,1.0)" text-anchor="middle">2.48 m</text>
<circle cx="436.40" cy="352.07" r="2" fill="#000"/>
<text class="t" transform="translate(436.40,362.67) scale(1,1.0)" text-anchor="middle">0.57 m</text>
<text class="t" transform="translate(436.40,372.87) scale(1,1.0)" text-anchor="middle">1.9 ft</text>
<text class="t" transform="translate(436.40,381.77) scale(1,1.0)" text-anchor="middle">7:01 am</text>
<circle cx="456.01" cy="180.68" r="2" fill="#000"/>
<text class="t" transform="translate(456.01,158.88) scale(1,1.0)" text-anchor="middle">1:10 pm</text>
<text class="t" transform="translate(456.01,167.38) scale(1,1.0)" text-anchor="middle">8.0 ft</text>
<text class="t" transform="translate(456.01,177.08) scale(1,1.0)" text-anchor="middle">2.43 m</text>
<circle cx="475.20" cy="356.68" r="2" fill="#000"/>
<text class="t" transform="translate(475.20,367.28) scale(1,1.0)" text-anchor="middle">0.52 m</text>
<text class="t" transform="translate(475.20,377.48) scale(1,1.0)" text-anchor="middle">1.7 ft</text>
<text class="t" transform="translate(475.20,386.38) scale(1,1.0)" text-anchor="middle">7:11 pm</text>
<circle cx="495.12" cy="150.27" r="2" fill="#000"/>
<text class="t" transform="translate(495.12,128.47) scale(1,1.0)" text-anchor="middle">1:26 am</text>
<text class="t" transform="translate(495.12,136.97) scale(1,1.0)" text-anchor="middle">9.1 ft</text>
<text class="t" transform="translate(495.12,146.67) scale(1,1.0)" text-anchor="middle">2.76 m</text>
<circle cx="515.11" cy="377.88" r="2" fill="#000"/>
<text class="t" transform="translate(515.11,388.48) scale(1,1.0)" text-anchor="middle">0.29 m</text>
<text class="t" transform="translate(515.11,398.68) scale(1,1.0)" text-anchor="middle">1.0 ft</text>
<text class="t" transform="translate(515.11,407.58) scale(1,1.0)" text-anchor="middle">7:42 am</text>
<circle cx="534.71" cy="158.56" r="2" fill="#000"/>
<text class="t" transform="translate(534.71,136.76) scale(1,1.0)" text-anchor="middle">1:51 pm</text>
<text class="t" transform="translate(534.71,145.26) scale(1,1.0)" text-anchor="middle">8.8 ft</text>
<text class="t" transform="translate(534.71,154.96) scale(1,1.0)" text-anchor="middle">2.67 m</text>
<circle cx="553.85" cy="378.80" r="2" fill="#000"/>
<text class="t" transform="translate(553.85,389.40) scale(1,1.0)" text-anchor="middle">0.28 m</text>
<text class="t" transform="translate(553.85,399.60) scale(1,1.0)" text-anchor="middle">0.9 ft</text>
<text class="t" transform="translate(553.85,408.50) scale(1,1.0)" text-anchor="middle">7:51 pm</text>
<circle cx="573.72" cy="126.31" r="2" fill="#000"/>
<text class="t" transform="translate(573.72,104.51) scale(1,1.0)" text-anchor="middle">2:05 am</text>
<text class="t" transform="translate(573.72,113.01) scale(1,1.0)" text-anchor="middle">9.9 ft</text>
<text class="t" transform="translate(573.72,122.71) scale(1,1.0)" text-anchor="middle">3.02 m</text>
<circle cx="593.70" cy="400.91" r="2" fill="#000"/>
<text class="t" transform="translate(593.70,411.51) scale(1,1.0)" text-anchor="middle">0.04 m</text>
<text class="t" transform="translate(593.70,421.71) scale(1,1.0)" text-anchor="middle">0.1 ft</text>
<text class="t" transform="translate(593.70,430.61) scale(1,1.0)" text-anchor="middle">8:21 am</text>
<circle cx="613.31" cy="141.05" r="2" fill="#000"/>
<text class="t" transform="translate(613.31,119.25) scale(1,1.0)" text-anchor="middle">2:30 pm</text>
<text class="t" transform="translate(613.31,127.75) scale(1,1.0)" text-anchor="middle">9.4 ft</text>
<text class="t" transform="translate(613.31,137.45) scale(1,1.0)" text-anchor="middle">2.86 m</text>
<circle cx="632.39" cy="397.23" r="2" fill="#000"/>
<text class="t" transform="translate(632.39,407.83) scale(1,1.0)" text-anchor="middle">0.08 m</text>
<text class="t" transform="translate(632.39,418.03) scale(1,1.0)" text-anchor="middle">0.3 ft</text>
<text class="t" transform="translate(632.39,426.93) scale(1,1.0)" text-anchor="middle">8:29 pm</text>
<circle cx="652.32" cy="107.88" r="2" fill="#000"/>
<text class="t" transform="translate(652.32,86.08) scale(1,1.0)" text-anchor="middle">2:44 am</text>
<text class="t" transform="translate(652.32,94.58) scale(1,1.0)" text-anchor="middle">10.6 ft</text>
<text class="t" transform="translate(652.32,104.28) scale(1,1.0)" text-anchor="middle">3.22 m</text>
<circle cx="672.25" cy="417.50" r="2" fill="#000"/>
<text class="t" transform="translate(672.25,428.10) scale(1,1.0)" text-anchor="middle">–0.14 m</text>
<text class="t" transform="translate(672.25,438.30) scale(1,1.0)" text-anchor="middle">–0.5 ft</text>
<text class="t" transform="translate(672.25,447.20) scale(1,1.0)" text-anchor="middle">8:59 am</text>
<circle cx="691.85" cy="128.15" r="2" fill="#000"/>
<text class="t" transform="translate(691.85,106.35) scale(1,1.0)" text-anchor="middle">3:08 pm</text>
<text class="t" transform="translate(691.85,114.85) scale(1,1.0)" text-anchor="middle">9.8 ft</text>
<text class="t" transform="translate(691.85,124.55) scale(1,1.0)" text-anchor="middle">3.00 m</text>
<polygon points="372.53,215.5 367.93,222.9 377.13,222.9" fill="#e2da3a" stroke="#8a3a18" stroke-width="0.9"/>
<text class="row" x="45.7" y="480" text-anchor="end">Sunrise</text>
<text class="row" x="746.6" y="480">Sunrise</text>
<text class="row" x="45.7" y="493.8" text-anchor="end">Sunset</text>
<text class="row" x="746.6" y="493.8">Sunset</text>
<text class="row" x="45.7" y="507.1" text-anchor="end">Moonrise</text>
<text class="row" x="746.6" y="507.1">Moonrise</text>
<text class="row" x="45.7" y="520.9" text-anchor="end">Moonset</text>
<text class="row" x="746.6" y="520.9">Moonset</text>
<polygon points="54.85,468.60 57.20,472.36 61.50,473.44 58.65,476.84 58.96,481.26 54.85,479.60 50.73,481.26 51.04,476.84 48.19,473.44 52.49,472.36" fill="#55501a"/>
<circle cx="54.85" cy="476" r="4.3" fill="#b2b03e" stroke="#6a5a20" stroke-width="0.6"/>
<text class="ev" transform="translate(61.85,479.60) scale(1,1.12)" text-anchor="start">7:21am</text>
<polygon points="131.32,468.60 133.67,472.36 137.97,473.44 135.12,476.84 135.43,481.26 131.32,479.60 127.20,481.26 127.51,476.84 124.66,473.44 128.97,472.36" fill="#55501a"/>
<circle cx="131.32" cy="476" r="4.3" fill="#b2b03e" stroke="#6a5a20" stroke-width="0.6"/>
<text class="ev" transform="translate(138.32,479.60) scale(1,1.12)" text-anchor="start">7:20am</text>
<polygon points="207.79,468.60 210.14,472.36 214.44,473.44 211.59,476.84 211.90,481.26 207.79,479.60 203.67,481.26 203.98,476.84 201.13,473.44 205.44,472.36" fill="#55501a"/>
<circle cx="207.79" cy="476" r="4.3" fill="#b2b03e" stroke="#6a5a20" stroke-width="0.6"/>
<text class="ev" transform="translate(214.79,479.60) scale(1,1.12)" text-anchor="start">7:19am</text>
<polygon points="284.20,468.60 286.56,472.36 290.86,473.44 288.01,476.84 288.32,481.26 284.20,479.60 280.09,481.26 280.40,476.84 277.55,473.44 281.85,472.36" fill="#55501a"/>
<circle cx="284.20" cy="476" r="4.3" fill="#b2b03e" stroke="#6a5a20" stroke-width="0.6"/>
<text class="ev" transform="translate(291.20,479.60) scale(1,1.12)" text-anchor="start">7:17am</text>
<polygon points="360.68,468.60 363.03,472.36 367.33,473.44 364.48,476.84 364.79,481.26 360.68,479.60 356.56,481.26 356.87,476.84 354.02,473.44 358.32,472.36" fill="#55501a"/>
<circle cx="360.68" cy="476" r="4.3" fill="#b2b03e" stroke="#6a5a20" stroke-width="0.6"/>
<text class="ev" transform="translate(367.68,479.60) scale(1,1.12)" text-anchor="start">7:16am</text>
<polygon points="437.09,468.60 439.44,472.36 443.75,473.44 440.90,476.84 441.21,481.26 437.09,479.60 432.98,481.26 433.29,476.84 430.44,473.44 434.74,472.36" fill="#55501a"/>
<circle cx="437.09" cy="476" r="4.3" fill="#b2b03e" stroke="#6a5a20" stroke-width="0.6"/>
<text class="ev" transform="translate(444.09,479.60) scale(1,1.12)" text-anchor="start">7:14am</text>
<polygon points="513.56,468.60 515.92,472.36 520.22,473.44 517.37,476.84 517.68,481.26 513.56,479.60 509.45,481.26 509.76,476.84 506.91,473.44 511.21,472.36" fill="#55501a"/>
<circle cx="513.56" cy="476" r="4.3" fill="#b2b03e" stroke="#6a5a20" stroke-width="0.6"/>
<text class="ev" transform="translate(520.56,479.60) scale(1,1.12)" text-anchor="start">7:13am</text>
<polygon points="589.98,468.60 592.33,472.36 596.64,473.44 593.79,476.84 594.10,481.26 589.98,479.60 585.87,481.26 586.18,476.84 583.32,473.44 587.63,472.36" fill="#55501a"/>
<circle cx="589.98" cy="476" r="4.3" fill="#b2b03e" stroke="#6a5a20" stroke-width="0.6"/>
<text class="ev" transform="translate(596.98,479.60) scale(1,1.12)" text-anchor="start">7:11am</text>
<polygon points="666.45,468.60 668.80,472.36 673.11,473.44 670.26,476.84 670.57,481.26 666.45,479.60 662.34,481.26 662.65,476.84 659.80,473.44 664.10,472.36" fill="#55501a"/>
<circle cx="666.45" cy="476" r="4.3" fill="#b2b03e" stroke="#6a5a20" stroke-width="0.6"/>
<text class="ev" transform="translate(673.45,479.60) scale(1,1.12)" text-anchor="start">7:10am</text>
<polygon points="89.76,482.40 92.11,486.16 96.42,487.24 93.56,490.64 93.87,495.06 89.76,493.40 85.65,495.06 85.96,490.64 83.10,487.24 87.41,486.16" fill="#4a3a12"/>
<circle cx="89.76" cy="489.8" r="4.3" fill="#dc8030" stroke="#7a4a18" stroke-width="0.6"/>
<text class="ev" transform="translate(96.76,493.60) scale(1,1.12)" text-anchor="start">6:18pm</text>
<polygon points="166.34,482.40 168.69,486.16 172.99,487.24 170.14,490.64 170.45,495.06 166.34,493.40 162.22,495.06 162.53,490.64 159.68,487.24 163.99,486.16" fill="#4a3a12"/>
<circle cx="166.34" cy="489.8" r="4.3" fill="#dc8030" stroke="#7a4a18" stroke-width="0.6"/>
<text class="ev" transform="translate(173.34,493.60) scale(1,1.12)" text-anchor="start">6:19pm</text>
<polygon points="242.91,482.40 245.26,486.16 249.57,487.24 246.72,490.64 247.03,495.06 242.91,493.40 238.80,495.06 239.11,490.64 236.26,487.24 240.56,486.16" fill="#4a3a12"/>
<circle cx="242.91" cy="489.8" r="4.3" fill="#dc8030" stroke="#7a4a18" stroke-width="0.6"/>
<text class="ev" transform="translate(249.91,493.60) scale(1,1.12)" text-anchor="start">6:20pm</text>
<polygon points="319.54,482.40 321.90,486.16 326.20,487.24 323.35,490.64 323.66,495.06 319.54,493.40 315.43,495.06 315.74,490.64 312.89,487.24 317.19,486.16" fill="#4a3a12"/>
<circle cx="319.54" cy="489.8" r="4.3" fill="#dc8030" stroke="#7a4a18" stroke-width="0.6"/>
<text class="ev" transform="translate(326.54,493.60) scale(1,1.12)" text-anchor="start">6:22pm</text>
<polygon points="396.12,482.40 398.47,486.16 402.78,487.24 399.93,490.64 400.24,495.06 396.12,493.40 392.01,495.06 392.32,490.64 389.46,487.24 393.77,486.16" fill="#4a3a12"/>
<circle cx="396.12" cy="489.8" r="4.3" fill="#dc8030" stroke="#7a4a18" stroke-width="0.6"/>
<text class="ev" transform="translate(403.12,493.60) scale(1,1.12)" text-anchor="start">6:23pm</text>
<polygon points="472.70,482.40 475.05,486.16 479.36,487.24 476.50,490.64 476.81,495.06 472.70,493.40 468.58,495.06 468.89,490.64 466.04,487.24 470.35,486.16" fill="#4a3a12"/>
<circle cx="472.70" cy="489.8" r="4.3" fill="#dc8030" stroke="#7a4a18" stroke-width="0.6"/>
<text class="ev" transform="translate(479.70,493.60) scale(1,1.12)" text-anchor="start">6:24pm</text>
<polygon points="549.28,482.40 551.63,486.16 555.93,487.24 553.08,490.64 553.39,495.06 549.28,493.40 545.16,495.06 545.47,490.64 542.62,487.24 546.92,486.16" fill="#4a3a12"/>
<circle cx="549.28" cy="489.8" r="4.3" fill="#dc8030" stroke="#7a4a18" stroke-width="0.6"/>
<text class="ev" transform="translate(556.28,493.60) scale(1,1.12)" text-anchor="start">6:25pm</text>
<polygon points="625.85,482.40 628.20,486.16 632.51,487.24 629.66,490.64 629.97,495.06 625.85,493.40 621.74,495.06 622.05,490.64 619.20,487.24 623.50,486.16" fill="#4a3a12"/>
<circle cx="625.85" cy="489.8" r="4.3" fill="#dc8030" stroke="#7a4a18" stroke-width="0.6"/>
<text class="ev" transform="translate(632.85,493.60) scale(1,1.12)" text-anchor="start">6:26pm</text>
<circle cx="115.64" cy="502.9" r="5.2" fill="#ffffc8" stroke="#5a5a5a" stroke-width="1"/>
<text class="ev" transform="translate(122.64,507.00) scale(1,1.12)" text-anchor="start">2:25am</text>
<circle cx="195.46" cy="502.9" r="5.2" fill="#ffffc8" stroke="#5a5a5a" stroke-width="1"/>
<text class="ev" transform="translate(202.46,507.00) scale(1,1.12)" text-anchor="start">3:27am</text>
<circle cx="275.01" cy="502.9" r="5.2" fill="#ffffc8" stroke="#5a5a5a" stroke-width="1"/>
<text class="ev" transform="translate(282.01,507.00) scale(1,1.12)" text-anchor="start">4:24am</text>
<circle cx="354.25" cy="502.9" r="5.2" fill="#ffffc8" stroke="#5a5a5a" stroke-width="1"/>
<text class="ev" transform="translate(361.25,507.00) scale(1,1.12)" text-anchor="start">5:15am</text>
<circle cx="433.05" cy="502.9" r="5.2" fill="#ffffc8" stroke="#5a5a5a" stroke-width="1"/>
<text class="ev" transform="translate(440.05,507.00) scale(1,1.12)" text-anchor="start">5:58am</text>
<circle cx="511.44" cy="502.9" r="5.2" fill="#ffffc8" stroke="#5a5a5a" stroke-width="1"/>
<text class="ev" transform="translate(518.44,507.00) scale(1,1.12)" text-anchor="start">6:33am</text>
<circle cx="589.61" cy="502.9" r="5.2" fill="#ffffc8" stroke="#5a5a5a" stroke-width="1"/>
<text class="ev" transform="translate(596.61,507.00) scale(1,1.12)" text-anchor="start">7:04am</text>
<circle cx="667.52" cy="502.9" r="5.2" fill="#ffffc8" stroke="#5a5a5a" stroke-width="1"/>
<text class="ev" transform="translate(674.52,507.00) scale(1,1.12)" text-anchor="start">7:30am</text>
<circle cx="65.74" cy="516.4" r="5.2" fill="#ccccb0" stroke="#555" stroke-width="1"/>
<text class="ev" transform="translate(73.24,520.40) scale(1,1.12)" text-anchor="start">10:46am</text>
<circle cx="144.28" cy="516.4" r="5.2" fill="#ccccb0" stroke="#555" stroke-width="1"/>
<text class="ev" transform="translate(151.78,520.40) scale(1,1.12)" text-anchor="start">11:24am</text>
<circle cx="223.30" cy="516.4" r="5.2" fill="#ccccb0" stroke="#555" stroke-width="1"/>
<text class="ev" transform="translate(230.80,520.40) scale(1,1.12)" text-anchor="start">12:11pm</text>
<circle cx="302.80" cy="516.4" r="5.2" fill="#ccccb0" stroke="#555" stroke-width="1"/>
<text class="ev" transform="translate(310.30,520.40) scale(1,1.12)" text-anchor="start">1:07pm</text>
<circle cx="382.89" cy="516.4" r="5.2" fill="#ccccb0" stroke="#555" stroke-width="1"/>
<text class="ev" transform="translate(390.39,520.40) scale(1,1.12)" text-anchor="start">2:14pm</text>
<circle cx="463.24" cy="516.4" r="5.2" fill="#ccccb0" stroke="#555" stroke-width="1"/>
<text class="ev" transform="translate(470.74,520.40) scale(1,1.12)" text-anchor="start">3:26pm</text>
<circle cx="543.80" cy="516.4" r="5.2" fill="#ccccb0" stroke="#555" stroke-width="1"/>
<text class="ev" transform="translate(551.30,520.40) scale(1,1.12)" text-anchor="start">4:42pm</text>
<circle cx="624.36" cy="516.4" r="5.2" fill="#ccccb0" stroke="#555" stroke-width="1"/>
<text class="ev" transform="translate(631.86,520.40) scale(1,1.12)" text-anchor="start">5:58pm</text>
<text class="ev" transform="translate(84.12,533.60) scale(1,1.12)" text-anchor="end">Last Quarter</text>
<rect x="86.87" y="525.5" width="0.9" height="10.5" fill="#333"/>
<text class="ev" transform="translate(90.92,533.60) scale(1,1.12)" text-anchor="start">5:32pm</text>
<text class="ev" transform="translate(642.74,533.60) scale(1,1.12)" text-anchor="end">New Moon</text>
<rect x="645.49" y="525.5" width="0.9" height="10.5" fill="#333"/>
<text class="ev" transform="translate(649.54,533.60) scale(1,1.12)" text-anchor="start">12:44am</text>
</svg></body></html>
